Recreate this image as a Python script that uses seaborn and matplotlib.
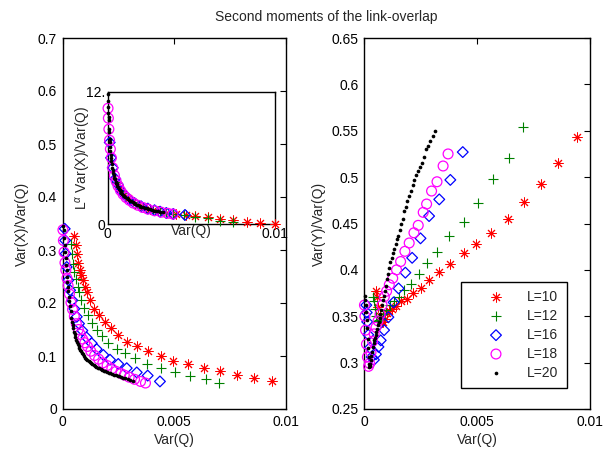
#! /usr/bin/env python3

"""Second moments of the link-overlap: Var(X)/Var(Q) and Var(Y)/Var(Q) against Var(Q)."""

import matplotlib
matplotlib.use("Agg")
import matplotlib.pyplot as plt
import seaborn as sns

labels = ["L=10", "L=12", "L=16", "L=18", "L=20"]

# L=10
vq10 = [0.00052, 0.00059, 0.00064, 0.00071, 0.00078, 0.00085, 0.00093, 0.00101, 0.00111,
        0.00123, 0.00143, 0.00165, 0.00191, 0.00217, 0.00250, 0.00288, 0.00333, 0.00382,
        0.00442, 0.00497, 0.00564, 0.00635, 0.00706, 0.00781, 0.00860, 0.00941]
vx10 = [0.326, 0.309, 0.293, 0.276, 0.263, 0.252, 0.243, 0.231, 0.221, 0.205, 0.189, 0.177,
        0.164, 0.152, 0.139, 0.127, 0.119, 0.109, 0.100, 0.091, 0.084, 0.078, 0.071, 0.064,
        0.058, 0.052]
vy10 = [0.377, 0.371, 0.360, 0.350, 0.344, 0.344, 0.347, 0.354, 0.356, 0.358, 0.361, 0.366,
        0.369, 0.375, 0.380, 0.389, 0.398, 0.406, 0.418, 0.428, 0.440, 0.455, 0.473, 0.493,
        0.515, 0.543]

# L=12
vq12 = [0.00038, 0.00044, 0.00049, 0.00053, 0.00059, 0.00068, 0.00074, 0.00083, 0.00098,
        0.00116, 0.00134, 0.00153, 0.00176, 0.00206, 0.00243, 0.00280, 0.00325, 0.00378,
        0.00442, 0.00504, 0.00572, 0.00642, 0.00703]
vx12 = [0.312, 0.292, 0.274, 0.258, 0.246, 0.230, 0.221, 0.205, 0.191, 0.177, 0.163, 0.150,
        0.138, 0.125, 0.114, 0.105, 0.096, 0.085, 0.077, 0.069, 0.063, 0.056, 0.050]
vy12 = [0.371, 0.366, 0.358, 0.350, 0.345, 0.346, 0.348, 0.352, 0.357, 0.362, 0.366, 0.371,
        0.378, 0.385, 0.396, 0.407, 0.419, 0.436, 0.452, 0.472, 0.498, 0.521, 0.554]

# L=16
vq16 = [0.00010, 0.00012, 0.00014, 0.00019, 0.00026, 0.00034, 0.00044, 0.00053, 0.00064,
        0.00074, 0.00089, 0.00108, 0.00131, 0.00153, 0.00183, 0.00213, 0.00250, 0.00288,
        0.00333, 0.00382, 0.00437]
vx16 = [0.340, 0.318, 0.293, 0.268, 0.243, 0.224, 0.205, 0.189, 0.174, 0.161, 0.148, 0.135,
        0.124, 0.113, 0.102, 0.093, 0.085, 0.077, 0.069, 0.063, 0.052]
vy16 = [0.362, 0.354, 0.344, 0.330, 0.316, 0.306, 0.303, 0.309, 0.317, 0.324, 0.335, 0.349,
        0.365, 0.380, 0.397, 0.413, 0.434, 0.458, 0.476, 0.497, 0.527]

# L=18
vq18 = [0.00002, 0.00004, 0.00007, 0.00011, 0.00015, 0.00020, 0.00025, 0.00031, 0.00038,
        0.00045, 0.00053, 0.00062, 0.00071, 0.00080, 0.00090, 0.00100, 0.00112, 0.00127,
        0.00144, 0.00162, 0.00181, 0.00200, 0.00221, 0.00240, 0.00262, 0.00277, 0.00299,
        0.00323, 0.00350, 0.00372]
vx18 = [0.338, 0.318, 0.296, 0.276, 0.262, 0.247, 0.233, 0.217, 0.201, 0.188, 0.175, 0.161,
        0.150, 0.141, 0.132, 0.125, 0.118, 0.109, 0.101, 0.094, 0.087, 0.082, 0.076, 0.071,
        0.067, 0.064, 0.060, 0.056, 0.052, 0.049]
vy18 = [0.362, 0.350, 0.335, 0.320, 0.306, 0.296, 0.299, 0.311, 0.323, 0.331, 0.338, 0.345,
        0.352, 0.362, 0.371, 0.377, 0.384, 0.391, 0.400, 0.409, 0.420, 0.429, 0.440, 0.448,
        0.462, 0.471, 0.485, 0.495, 0.512, 0.525]

# L=20
vq20 = [0.00004, 0.00006, 0.00008, 0.00010, 0.00012, 0.00014, 0.00016, 0.00018, 0.00020,
        0.00022, 0.00024, 0.00026, 0.00028, 0.00030, 0.00033, 0.00036, 0.00040, 0.00043,
        0.00046, 0.00049, 0.00052, 0.00055, 0.00058, 0.00062, 0.00065, 0.00069, 0.00072,
        0.00076, 0.00080, 0.00084, 0.00088, 0.00092, 0.00097, 0.00102, 0.00107, 0.00112,
        0.00117, 0.00122, 0.00128, 0.00134, 0.00140, 0.00147, 0.00152, 0.00159, 0.00165,
        0.00171, 0.00178, 0.00185, 0.00192, 0.00200, 0.00207, 0.00215, 0.00222, 0.00230,
        0.00238, 0.00247, 0.00255, 0.00264, 0.00273, 0.00282, 0.00292, 0.00304, 0.00316]
vx20 = [0.345, 0.338, 0.322, 0.310, 0.296, 0.285, 0.272, 0.262, 0.250, 0.240, 0.230, 0.222,
        0.212, 0.204, 0.194, 0.184, 0.172, 0.165, 0.158, 0.152, 0.146, 0.141, 0.136, 0.131,
        0.127, 0.123, 0.119, 0.115, 0.112, 0.109, 0.106, 0.103, 0.100, 0.097, 0.095, 0.093,
        0.091, 0.089, 0.087, 0.085, 0.083, 0.081, 0.080, 0.078, 0.077, 0.075, 0.074, 0.072,
        0.071, 0.070, 0.068, 0.067, 0.066, 0.065, 0.064, 0.063, 0.062, 0.061, 0.059, 0.058,
        0.057, 0.055, 0.053]
vy20 = [0.372, 0.368, 0.362, 0.355, 0.346, 0.337, 0.326, 0.316, 0.306, 0.299, 0.295, 0.296,
        0.299, 0.303, 0.307, 0.311, 0.317, 0.321, 0.324, 0.327, 0.330, 0.333, 0.336, 0.341,
        0.344, 0.348, 0.352, 0.357, 0.362, 0.367, 0.372, 0.377, 0.383, 0.390, 0.396, 0.402,
        0.408, 0.413, 0.418, 0.423, 0.428, 0.433, 0.437, 0.443, 0.450, 0.455, 0.463, 0.468,
        0.474, 0.480, 0.485, 0.491, 0.497, 0.502, 0.507, 0.511, 0.515, 0.522, 0.530, 0.534,
        0.539, 0.544, 0.550]

# inset: L^alpha Var(X)/Var(Q) against Var(Q)
iq10 = [0.0006, 0.0008, 0.0010, 0.0012, 0.0015, 0.0018, 0.0021, 0.0025, 0.0030, 0.0035,
        0.0041, 0.0047, 0.00522, 0.00602, 0.0067, 0.0075, 0.0083, 0.0091, 0.0100]
iy10 = [3.5, 3.0, 2.65, 2.35, 2.0, 1.75, 1.55, 1.38, 1.18, 1.02, 0.88, 0.80, 0.73, 0.60,
        0.42, 0.36, 0.21, 0.06, 0.0]
iq12 = [0.0005, 0.0007, 0.0009, 0.0012, 0.0015, 0.0019, 0.0023, 0.0027, 0.0031, 0.0035,
        0.00392, 0.00455, 0.00522, 0.00602, 0.0067, 0.0075]
iy12 = [3.8, 3.2, 2.8, 2.35, 2.0, 1.7, 1.45, 1.3, 1.15, 1.0, 0.91, 0.8, 0.66, 0.51, 0.30, 0.15]
iq16 = [0.00012, 0.0002, 0.0003, 0.00045, 0.0006, 0.0008, 0.0010, 0.0013, 0.0016, 0.0020,
        0.0024, 0.0028, 0.00313, 0.0035, 0.00392, 0.00462]
iy16 = [7.4, 6.0, 5.1, 4.1, 3.6, 3.0, 2.65, 2.2, 1.9, 1.6, 1.4, 1.25, 1.12, 1.0, 0.91, 0.82]
iq18 = [0.00002, 0.00004, 0.00007, 0.00011, 0.00016, 0.00022, 0.0003, 0.0004, 0.0005,
        0.00062, 0.00076, 0.00092, 0.0011, 0.0013, 0.00153, 0.0018, 0.0021, 0.0024, 0.0028,
        0.0032, 0.0036, 0.0039]
iy18 = [10.5, 9.6, 8.6, 7.6, 6.8, 6.0, 5.1, 4.4, 3.9, 3.45, 3.05, 2.7, 2.4, 2.15, 1.9, 1.7,
        1.5, 1.35, 1.2, 1.07, 0.97, 0.9]
iq20 = [0.00001, 0.00002, 0.00003, 0.00004, 0.00005, 0.00006, 0.00008, 0.00009, 0.00011,
        0.00012, 0.00014, 0.00016, 0.00018, 0.0002, 0.00022, 0.00025, 0.00028, 0.0003,
        0.00033, 0.00036, 0.0004, 0.00043, 0.00047, 0.0005, 0.00054, 0.00058, 0.00062,
        0.00067, 0.00072, 0.00077, 0.00082, 0.00088, 0.00094, 0.001, 0.00106, 0.00113,
        0.0012, 0.00127, 0.00134, 0.00142, 0.0015, 0.00158, 0.00166, 0.00175, 0.00184,
        0.00193, 0.00202, 0.00212, 0.00222, 0.00232, 0.00243, 0.00254, 0.00265, 0.00277,
        0.00288, 0.003, 0.00315, 0.0033]
iy20 = [11.8, 11.2, 10.6, 10.1, 9.7, 9.4, 8.6, 8.3, 7.7, 7.4, 7.0, 6.6, 6.3, 6.0, 5.7, 5.4,
        5.1, 4.9, 4.65, 4.45, 4.2, 4.05, 3.85, 3.75, 3.6, 3.45, 3.32, 3.2, 3.07, 2.95, 2.85,
        2.75, 2.65, 2.55, 2.47, 2.38, 2.3, 2.2, 2.13, 2.05, 1.98, 1.9, 1.83, 1.76, 1.7, 1.63,
        1.58, 1.52, 1.47, 1.42, 1.37, 1.32, 1.27, 1.22, 1.18, 1.14, 1.1, 1.05]

left_yticks = [0, 0.1, 0.2, 0.3, 0.4, 0.5, 0.6, 0.7]
left_yticklabels = ["0", "0.1", "0.2", "0.3", "0.4", "0.5", "0.6", "0.7"]
right_yticks = [0.25, 0.3, 0.35, 0.4, 0.45, 0.5, 0.55, 0.6, 0.65]
right_yticklabels = ["0.25", "0.3", "0.35", "0.4", "0.45", "0.5", "0.55", "0.6", "0.65"]
xticks = [0, 0.005, 0.01]
xticklabels = ["0", "0.005", "0.01"]
inset_yticks = [0, 1.2, 2.4, 12]
inset_yticklabels = ["0", "", "", "12."]

styles = [
    dict(marker=(8, 2, 0), color="red", s=44, linewidth=0.7),
    dict(marker="+", color="#008000", s=50, linewidth=0.8),
    dict(marker="D", facecolor="none", edgecolor="blue", s=30, linewidth=0.9),
    dict(marker="o", facecolor="none", edgecolor="magenta", s=50, linewidth=0.9),
    dict(marker="o", color="black", s=7, linewidth=0),
]


def style_axes(ax):
    ax.tick_params(direction="in", top=True, right=True, length=4, width=0.8,
                   colors="black", labelsize=10, pad=4)
    for sp in ax.spines.values():
        sp.set_color("black")
        sp.set_linewidth(1.0)
        sp.set_visible(True)


def main():
    sns.set_theme(style="white")
    plt.rcParams["font.family"] = ["Liberation Sans", "DejaVu Sans"]
    plt.rcParams["mathtext.fontset"] = "custom"
    plt.rcParams["mathtext.rm"] = "Liberation Sans"
    plt.rcParams["mathtext.it"] = "Liberation Sans:italic"

    fig = plt.figure(figsize=(6.04, 4.51), dpi=100)
    ax1 = fig.add_axes([62.5 / 604, 42 / 451, 223 / 604, 371 / 451])
    ax2 = fig.add_axes([364 / 604, 42 / 451, 226 / 604, 371 / 451])
    ins = fig.add_axes([107.7 / 604, 227 / 451, 167.3 / 604, 132.3 / 451])

    main_x = [vq10, vq12, vq16, vq18, vq20]
    left_y = [vx10, vx12, vx16, vx18, vx20]
    right_y = [vy10, vy12, vy16, vy18, vy20]
    inset_x = [iq10, iq12, iq16, iq18, iq20]
    inset_y = [iy10, iy12, iy16, iy18, iy20]

    for lab, st, q, a, b, iq, iy in zip(labels, styles, main_x, left_y, right_y,
                                        inset_x, inset_y):
        sns.scatterplot(x=q, y=a, ax=ax1, clip_on=False, zorder=3, **st)
        sns.scatterplot(x=q, y=b, ax=ax2, clip_on=False, zorder=3, label=lab, **st)
        sns.scatterplot(x=iq, y=iy, ax=ins, clip_on=False, zorder=3, **st)

    ax1.set_xlim(0, 0.01)
    ax1.set_ylim(0, 0.7)
    ax1.set_xticks(xticks, xticklabels)
    ax1.set_yticks(left_yticks, left_yticklabels)
    ax1.set_xlabel("Var(Q)", fontsize=10, labelpad=3)
    ax1.set_ylabel("Var(X)/Var(Q)", fontsize=10, labelpad=6)
    style_axes(ax1)

    ax2.set_xlim(0, 0.01)
    ax2.set_ylim(0.25, 0.65)
    ax2.set_xticks(xticks, xticklabels)
    ax2.set_yticks(right_yticks, right_yticklabels)
    ax2.set_xlabel("Var(Q)", fontsize=10, labelpad=3)
    ax2.set_ylabel("Var(Y)/Var(Q)", fontsize=10, labelpad=4)
    style_axes(ax2)
    leg = ax2.legend(loc="lower right", bbox_to_anchor=(0.898, 0.057), fontsize=10,
                     frameon=True, fancybox=False, framealpha=1, edgecolor="black",
                     borderpad=0.6, labelspacing=0.35, handlelength=3.9,
                     handletextpad=0.3, scatterpoints=1, borderaxespad=0)
    leg.get_frame().set_linewidth(1.0)

    ins.set_xlim(0, 0.01)
    ins.set_ylim(0, 12)
    ins.set_xticks([0, 0.01], ["0", "0.01"])
    ins.set_yticks(inset_yticks, inset_yticklabels)
    ins.set_xlabel("Var(Q)", fontsize=10, labelpad=-12)
    ins.set_ylabel(r"L$^{\alpha}$ Var(X)/Var(Q)", fontsize=10, labelpad=-5)
    style_axes(ins)
    ins.tick_params(length=3, pad=2, right=False)
    ins.set_facecolor("white")

    fig.text(0.54, 0.962, "Second moments of the link-overlap", ha="center",
             va="center", fontsize=10)

    fig.savefig("out.png", dpi=100)


if __name__ == "__main__":
    main()
